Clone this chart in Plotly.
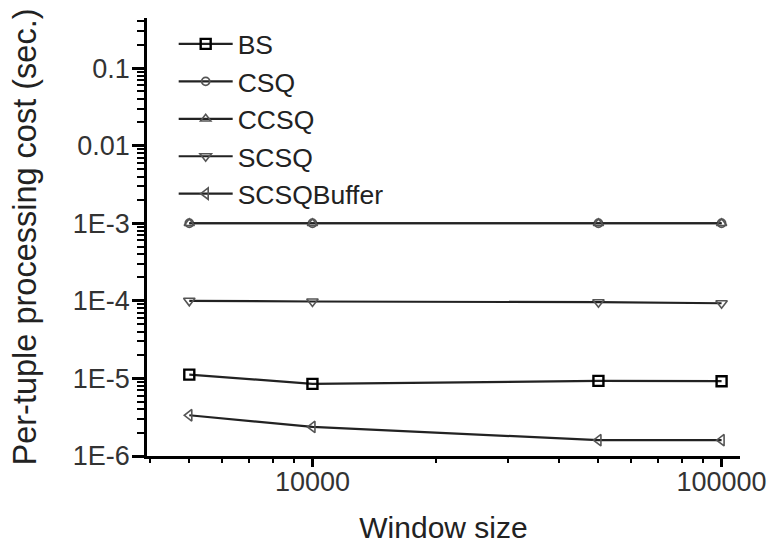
import plotly.graph_objects as go

window_sizes = [5000, 10000, 50000, 100000]
bs = [1.12e-5, 8.5e-6, 9.3e-6, 9.2e-6]
csq = [1.0e-3, 1.0e-3, 1.0e-3, 1.0e-3]
ccsq = [1.0e-3, 1.0e-3, 1.0e-3, 1.0e-3]
scsq = [1.0e-4, 9.8e-5, 9.6e-5, 9.3e-5]
scsq_buffer = [3.35e-6, 2.37e-6, 1.6e-6, 1.6e-6]

series_names = ["BS", "CSQ", "CCSQ", "SCSQ", "SCSQBuffer"]
series_values = [bs, csq, ccsq, scsq, scsq_buffer]
symbols = ["square-open", "circle-open", "triangle-up-open", "triangle-down-open", "triangle-left-open"]
marker_sizes = [10, 8, 9, 10, 10]
marker_line_widths = [2.4, 1.8, 1.6, 1.6, 1.6]
marker_colors = ["#000000", "#555555", "#555555", "#555555", "#555555"]
line_colors = ["#222222", "#222222", "#222222", "#222222", "#222222"]

y_tickvals = [0.1, 0.01, 1e-3, 1e-4, 1e-5, 1e-6]
y_ticktext = ["0.1", "0.01", "1E-3", "1E-4", "1E-5", "1E-6"]
x_tickvals = [10000, 100000]
x_ticktext = ["10000", "100000"]

x_minor = [m * 10 ** e for e in (3, 4) for m in range(2, 10)]
y_minor = [float(f"{m}e{e}") for e in range(-6, 0) for m in range(2, 10)]

fig = go.Figure()
for name, vals, sym, ms, mlw, mc, lc in zip(series_names, series_values, symbols, marker_sizes,
                                            marker_line_widths, marker_colors, line_colors):
    fig.add_trace(go.Scatter(
        x=window_sizes, y=vals, name=name, mode="lines+markers",
        line=dict(color=lc, width=2.2),
        marker=dict(symbol=sym, size=ms, color=mc, line=dict(color=mc, width=mlw)),
        legendgroup=name,
    ))

FONT = "Liberation Sans, Arial, sans-serif"
axis_font = dict(family=FONT, size=27, color="#333333")
Y_RANGE = [-6, -0.355]
fig.update_layout(
    width=779, height=551,
    margin=dict(l=147, r=39, t=18, b=95),
    paper_bgcolor="white", plot_bgcolor="white",
    font=dict(family=FONT, color="#333333"),
    showlegend=True,
    legend=dict(
        x=0.045, y=0.995, xanchor="left", yanchor="top",
        font=dict(family=FONT, size=26.5, color="#222222"),
        bgcolor="rgba(0,0,0,0)", tracegroupgap=10.5, itemwidth=54,
        traceorder="normal",
    ),
    xaxis=dict(
        type="log", range=[3.5956, 5.045],
        showline=True, linecolor="black", linewidth=2.5,
        showgrid=False, zeroline=False,
        ticks="outside", ticklen=8, tickwidth=2.5, tickcolor="black",
        tickvals=x_tickvals, ticktext=x_ticktext, tickfont=axis_font,
        ticklabelstandoff=-8,
        minor=dict(ticks="outside", ticklen=4, tickwidth=2, tickcolor="black", tickvals=x_minor, showgrid=False),
        title=dict(text="Window size", font=dict(family=FONT, size=30, color="#222222"), standoff=21),
    ),
    yaxis=dict(
        type="log", range=Y_RANGE,
        showline=True, linecolor="black", linewidth=2.5,
        showgrid=False, zeroline=False,
        ticks="outside", ticklen=12, tickwidth=3, tickcolor="black",
        tickvals=y_tickvals, ticktext=y_ticktext, tickfont=axis_font,
        ticklabelstandoff=-3,
        minor=dict(ticks="outside", ticklen=7, tickwidth=2, tickcolor="black", tickvals=y_minor, showgrid=False),
        title=dict(text="Per-tuple processing cost (sec.)", font=dict(family=FONT, size=32.5, color="#222222"), standoff=27),
    ),
)

fig.write_html("out.html")
